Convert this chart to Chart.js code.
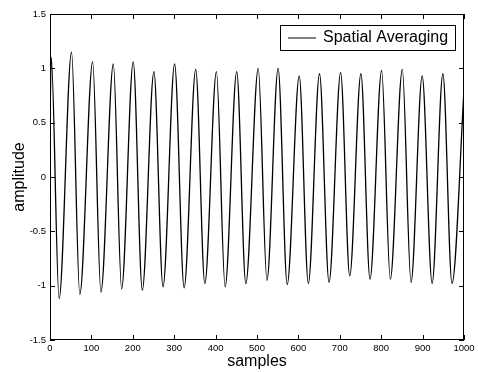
<!DOCTYPE html>
<html>
<head>
<meta charset="utf-8">
<script src="https://cdn.jsdelivr.net/npm/chart.js@4.4.1/dist/chart.umd.min.js"></script>
<style>
  html, body { margin: 0; padding: 0; background: #fff; }
  #wrap { width: 478px; height: 372px; }
</style>
</head>
<body>
<div id="wrap"><canvas id="waveChart" width="478" height="372"></canvas></div>
<script>
const seriesName = 'Spatial Averaging';

// turning points of the trace
const sampleIdx = [0, 3, 22, 52, 72, 103, 123, 153, 173, 201, 223, 251, 273, 301, 324, 352,
  374, 402, 423, 451, 473, 503, 524, 551, 573, 602, 624, 651, 674, 702, 724, 751,
  773, 801, 822, 851, 872, 899, 923, 949, 971, 1000];
const amplitude = [0.5, 1.1, -1.12, 1.15, -1.08, 1.06, -1.06, 1.04, -1.03, 1.06, -1.04, 0.97, -1.01, 1.04, -1.02, 0.99,
  -0.98, 0.97, -1.01, 0.97, -0.98, 1.0, -0.95, 1.0, -0.99, 0.93, -0.98, 0.95, -0.97, 0.96, -0.91, 0.95,
  -0.94, 0.98, -0.94, 0.99, -0.97, 0.93, -0.98, 0.95, -0.98, 0.8];

const xTicks = [0, 100, 200, 300, 400, 500, 600, 700, 800, 900, 1000];
const yTicks = [-1.5, -1, -0.5, 0, 0.5, 1, 1.5];

const fontFamily = "'Liberation Sans', Arial, sans-serif";
Chart.defaults.font.family = fontFamily;
Chart.defaults.color = '#000';

const points = sampleIdx.map((s, i) => ({ x: s, y: amplitude[i] }));

// box around the plot, inward ticks on all four sides, legend box
const framePlugin = {
    id: 'frame',
    afterDraw(chart) {
        const ctx = chart.ctx;
        const a = chart.chartArea;
        const xs = chart.scales.x, ys = chart.scales.y;
        const tl = 5;
        ctx.save();
        ctx.strokeStyle = '#000';
        ctx.lineWidth = 1;
        ctx.strokeRect(a.left + 0.5, a.top + 0.5, a.right - a.left - 1, a.bottom - a.top - 1);
        ctx.beginPath();
        xTicks.forEach(v => {
            const px = Math.round(xs.getPixelForValue(v)) + 0.5;
            ctx.moveTo(px, a.bottom); ctx.lineTo(px, a.bottom - tl);
            ctx.moveTo(px, a.top); ctx.lineTo(px, a.top + tl);
        });
        yTicks.forEach(v => {
            const py = Math.round(ys.getPixelForValue(v)) + 0.5;
            ctx.moveTo(a.left, py); ctx.lineTo(a.left + tl, py);
            ctx.moveTo(a.right, py); ctx.lineTo(a.right - tl, py);
        });
        ctx.stroke();

        // legend
        const ds = chart.data.datasets[0];
        const bx = 280, by = 25, bw = 175, bh = 25;
        ctx.fillStyle = '#fff';
        ctx.fillRect(bx, by, bw, bh);
        ctx.strokeRect(bx + 0.5, by + 0.5, bw, bh);
        ctx.beginPath();
        ctx.strokeStyle = ds.borderColor;
        ctx.moveTo(288, by + 13); ctx.lineTo(316, by + 13);
        ctx.stroke();
        ctx.fillStyle = '#000';
        ctx.font = '16px ' + fontFamily;
        ctx.textBaseline = 'alphabetic';
        ctx.fillText(ds.label, 323, 42);
        ctx.restore();
    }
};

new Chart(document.getElementById('waveChart'), {
    type: 'line',
    data: {
        datasets: [{
            label: seriesName,
            data: points,
            borderColor: '#000',
            borderWidth: 1.3,
            pointRadius: 0,
            fill: false,
            cubicInterpolationMode: 'monotone'
        }]
    },
    options: {
        responsive: false,
        animation: false,
        devicePixelRatio: 1,
        layout: { padding: { top: 14, right: 14, left: 0, bottom: 0 } },
        plugins: { legend: { display: false }, tooltip: { enabled: false } },
        scales: {
            x: {
                type: 'linear',
                min: 0,
                max: 1000,
                afterBuildTicks: s => { s.ticks = xTicks.map(v => ({ value: v })); },
                afterFit: s => { s.height = 32; },
                grid: { display: false, drawTicks: false },
                border: { display: false },
                ticks: { font: { size: 9.5 }, padding: 3, maxRotation: 0, autoSkip: false,
                         callback: v => String(v) },
                title: { display: true, text: 'samples', font: { size: 16 }, padding: { top: 0, bottom: 1 } }
            },
            y: {
                type: 'linear',
                min: -1.5,
                max: 1.5,
                afterBuildTicks: s => { s.ticks = yTicks.map(v => ({ value: v })); },
                afterFit: s => { s.width = 50; },
                grid: { display: false, drawTicks: false },
                border: { display: false },
                ticks: { font: { size: 9.5 }, padding: 4, autoSkip: false,
                         callback: v => String(v) },
                title: { display: true, text: 'amplitude', font: { size: 16 }, padding: { top: 10, bottom: 0 } }
            }
        }
    },
    plugins: [framePlugin]
});
</script>
</body>
</html>
